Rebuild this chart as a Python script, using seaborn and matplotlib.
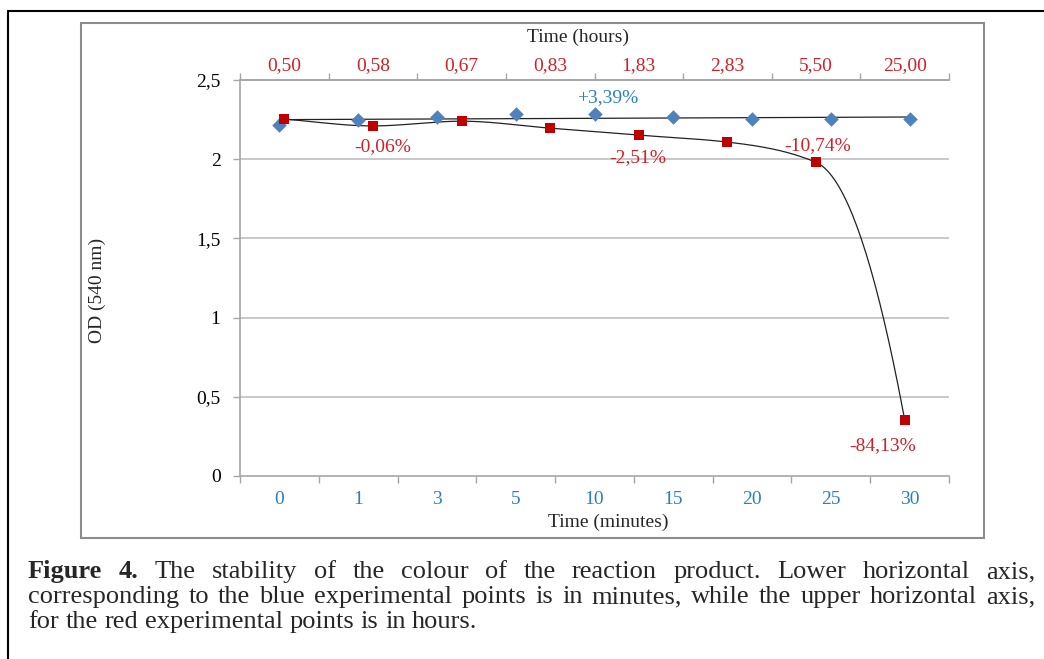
import numpy as np
import pandas as pd
import matplotlib
matplotlib.use("Agg")
import matplotlib.pyplot as plt
from matplotlib.lines import Line2D
from matplotlib.patches import Rectangle
import seaborn as sns

# ---------------- data ----------------
minutes_labels = ["0", "1", "3", "5", "10", "15", "20", "25", "30"]
blue_od = [2.215, 2.247, 2.266, 2.285, 2.285, 2.266, 2.253, 2.253, 2.253]

hours_labels = ["0,50", "0,58", "0,67", "0,83", "1,83", "2,83", "5,50", "25,00"]
red_od = [2.253, 2.210, 2.240, 2.196, 2.152, 2.108, 1.980, 0.354]

y_ticks = [0, 0.5, 1, 1.5, 2, 2.5]
y_ticklabels = ["0", "0,5", "1", "1,5", "2", "2,5"]

blue_note = "+3,39%"
red_notes = ["-0,06%", "-2,51%", "-10,74%", "-84,13%"]

caption_lines = [
    "Figure 4. The stability of the colour of the reaction product. Lower horizontal axis,",
    "corresponding to the blue experimental points is in minutes, while the upper horizontal axis,",
    "for the red experimental points is in hours.",
]

# ---------------- style ----------------
sns.set_style("white")
plt.rcParams["font.family"] = "Liberation Serif"

W, H = 1044, 659
fig = plt.figure(figsize=(W / 100, H / 100), dpi=100)

def fx(px):
    return px / W

def fy(py):
    return 1 - py / H

BLUE_M = "#4F81BD"
RED_M = "#C00000"
BLUE_T = "#2A7FC4"
RED_T = "#D0202A"
GRAY = "#A6A6A6"
FS = 14

# outer box (left + top lines) and inner chart frame
fig.add_artist(Line2D([fx(8), fx(8)], [fy(11), fy(670)], color="black", lw=1.5, transform=fig.transFigure))
fig.add_artist(Line2D([fx(8), fx(1050)], [fy(11), fy(11)], color="black", lw=1.5, transform=fig.transFigure))
fig.add_artist(Rectangle((fx(81), fy(538)), fx(984) - fx(81), fy(23) - fy(538),
                         fill=False, ec="#8C8C8C", lw=1.5, transform=fig.transFigure))

ax = fig.add_axes([fx(240), fy(476), fx(949) - fx(240), fy(80) - fy(476)])
ax.set_xlim(0, 1)
ax.set_ylim(0, 2.5)

nb, nr = len(minutes_labels), len(hours_labels)
bx = [(i + 0.5) / nb for i in range(nb)]
rx = [(j + 0.5) / nr for j in range(nr)]
df_b = pd.DataFrame({"x": bx, "od": blue_od})
df_r = pd.DataFrame({"x": rx, "od": red_od})

# gridlines
for yv in y_ticks[1:-1]:
    ax.axhline(yv, color="#BFBFBF", lw=1.2, zorder=0)

# linear trend of the blue series
coef = np.polyfit(bx, blue_od, 1)
tx = np.array([rx[0], bx[-1]])
df_bt = pd.DataFrame({"x": tx, "od": np.polyval(coef, tx)})
sns.lineplot(data=df_bt, x="x", y="od", ax=ax, color="#222222", lw=0.9, zorder=3)

# smooth monotone (PCHIP-like) line through the red series
xs = np.array(rx)
ys = np.array(red_od)
h = np.diff(xs)
d = np.diff(ys) / h
m = np.zeros_like(ys)
for k in range(1, len(ys) - 1):
    if d[k - 1] * d[k] > 0:
        w1 = 2 * h[k] + h[k - 1]
        w2 = h[k] + 2 * h[k - 1]
        m[k] = (w1 + w2) / (w1 / d[k - 1] + w2 / d[k])
m[0] = d[0]
m[-1] = 2 * d[-1] - m[-2]
cx, cy = [], []
for k in range(len(xs) - 1):
    t = np.linspace(0, 1, 40)
    h00 = 2 * t ** 3 - 3 * t ** 2 + 1
    h10 = t ** 3 - 2 * t ** 2 + t
    h01 = -2 * t ** 3 + 3 * t ** 2
    h11 = t ** 3 - t ** 2
    cx.extend(xs[k] + t * h[k])
    cy.extend(h00 * ys[k] + h10 * h[k] * m[k] + h01 * ys[k + 1] + h11 * h[k] * m[k + 1])
df_rt = pd.DataFrame({"x": cx, "od": cy})
sns.lineplot(data=df_rt, x="x", y="od", ax=ax, color="#222222", lw=0.9, sort=False, zorder=3)

# markers
sns.scatterplot(data=df_b, x="x", y="od", ax=ax, marker="D", s=55, color=BLUE_M,
                edgecolor=BLUE_M, linewidth=0, zorder=4)
sns.scatterplot(data=df_r, x="x", y="od", ax=ax, marker="s", s=60, color=RED_M,
                edgecolor=RED_M, linewidth=0, zorder=5)

# annotations
ax.text(0.518, 2.392, blue_note, color=BLUE_T, fontsize=FS, ha="center", va="center", zorder=2)
note_pos = [(0.2017, 2.082), (0.561, 2.013), (0.814, 2.089), (0.907, 0.19)]
for (x, y), t in zip(note_pos, red_notes):
    ax.text(x, y, t, color=RED_T, fontsize=FS, ha="center", va="center", zorder=2)

# axes styling
ax.set_xlabel("")
ax.set_ylabel("")
ax.set_yticks(y_ticks)
ax.set_yticklabels(y_ticklabels, fontsize=FS, color="black")
ax.set_xticks([k / nb for k in range(nb + 1)])
ax.set_xticklabels([])
ax.set_xticks(bx, minor=True)
ax.set_xticklabels(minutes_labels, minor=True, fontsize=FS, color=BLUE_T)
ax.tick_params(axis="y", which="major", length=5, width=1, color=GRAY, pad=9, direction="out", left=True)
ax.tick_params(axis="x", which="major", length=5, width=1, color=GRAY, direction="out", bottom=True)
ax.tick_params(axis="x", which="minor", length=0, pad=11)
ax.spines["right"].set_visible(False)
for s in ["left", "bottom", "top"]:
    ax.spines[s].set_color(GRAY)
    ax.spines[s].set_linewidth(1.2)

ax2 = ax.twiny()
ax2.set_xlim(0, 1)
ax2.set_xticks([k / nr for k in range(nr + 1)])
ax2.set_xticklabels([])
ax2.set_xticks(rx, minor=True)
ax2.set_xticklabels(hours_labels, minor=True, fontsize=FS, color=RED_T)
ax2.tick_params(axis="x", which="major", length=5, width=1, color=GRAY, direction="out", top=True)
ax2.tick_params(axis="x", which="minor", length=0, pad=4)
for s in ["right", "left", "bottom"]:
    ax2.spines[s].set_visible(False)
ax2.spines["top"].set_color(GRAY)
ax2.spines["top"].set_linewidth(1.2)

# axis titles
fig.text(fx(578), fy(37), "Time (hours)", fontsize=FS, ha="center", va="center")
fig.text(fx(608), fy(522), "Time (minutes)", fontsize=FS, ha="center", va="center")
fig.text(fx(97), fy(290), "OD (540 nm)", fontsize=FS, ha="center", va="center", rotation=90)

# caption with justification (words placed, then positioned from measured extents)
CAP_FS = 19
left_px, right_px = 28, 1035
baselines = [578, 603, 628]
all_lines = []
for li, line in enumerate(caption_lines):
    words = line.split(" ")
    texts = []
    for wi, w in enumerate(words):
        bold = (li == 0 and wi < 2)
        t = fig.text(fx(left_px), fy(baselines[li]), w, fontsize=CAP_FS, ha="left", va="baseline",
                     family="Liberation Serif", fontweight="bold" if bold else "normal")
        texts.append(t)
    all_lines.append(texts)

fig.canvas.draw()
renderer = fig.canvas.get_renderer()
probe1 = fig.text(0, 0, "a a", fontsize=CAP_FS, family="Liberation Serif")
probe2 = fig.text(0, 0, "aa", fontsize=CAP_FS, family="Liberation Serif")
space_w = probe1.get_window_extent(renderer).width - probe2.get_window_extent(renderer).width
probe1.remove()
probe2.remove()

for li, texts in enumerate(all_lines):
    widths = [t.get_window_extent(renderer).width for t in texts]
    if li < 2:
        gap = (right_px - left_px - sum(widths)) / (len(texts) - 1)
    else:
        gap = space_w
    x = left_px
    for t, w in zip(texts, widths):
        t.set_x(fx(x))
        x += w + gap

fig.savefig("out.png", dpi=100)
